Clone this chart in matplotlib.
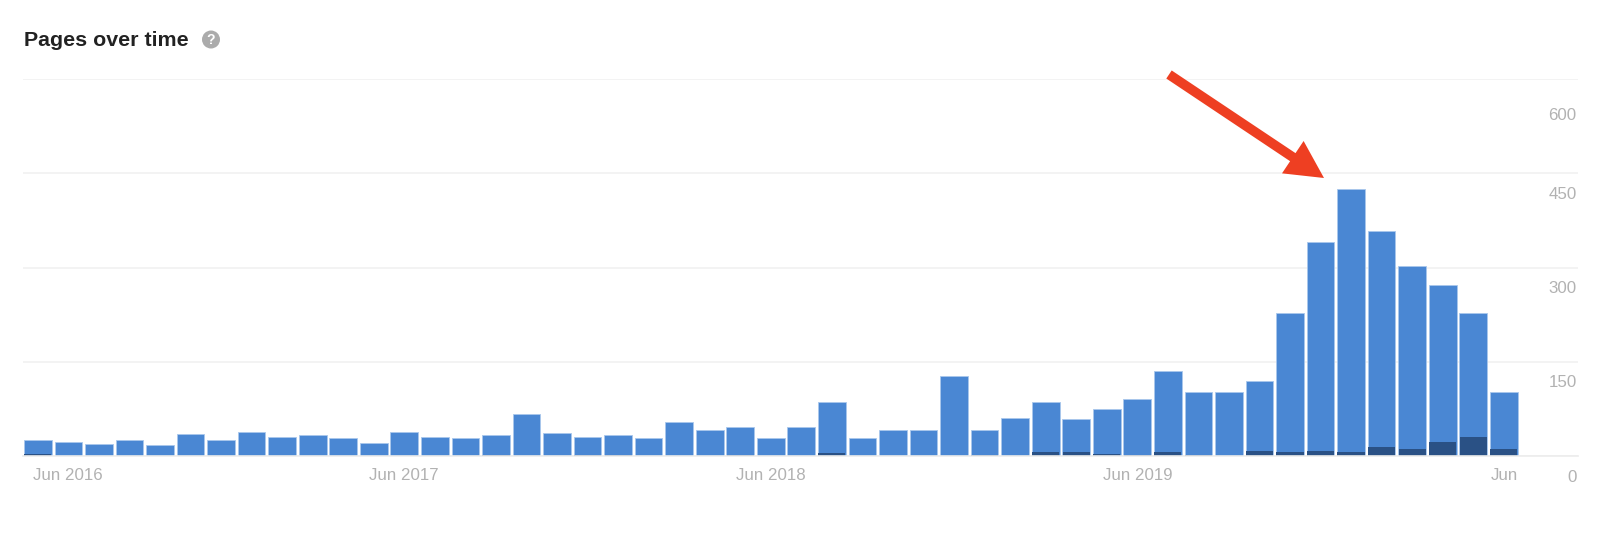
import matplotlib
matplotlib.use("Agg")
import numpy as np
import matplotlib.pyplot as plt
from matplotlib.patches import Circle
from matplotlib.transforms import IdentityTransform, offset_copy

plt.rcParams['font.family'] = ['Liberation Sans', 'DejaVu Sans']

# monthly page counts (Jun 2016 .. Jun 2020)
total_pages = [25, 23, 20, 26, 18, 36, 26, 38, 31, 34, 29, 21,
               39, 31, 29, 34, 67, 37, 31, 33, 29, 55, 41, 46,
               29, 47, 86, 29, 41, 42, 128, 41, 60, 86, 59, 75,
               91, 135, 102, 102, 120, 228, 341, 425, 359, 302, 272, 228, 102]
dark_pages = [3, 1, 1, 1, 1, 1, 1, 1, 1, 1, 1, 1,
              1, 1, 1, 2, 1, 1, 2, 2, 1, 1, 1, 2,
              1, 1, 5, 0, 0, 0, 0, 2, 1, 6, 6, 4,
              2, 6, 2, 0, 8, 6, 9, 6, 15, 12, 22, 31, 12]
y_ticks = [0, 150, 300, 450, 600]
x_label_months = [0, 12, 24, 36, 48]
x_labels = ['Jun 2016', 'Jun 2017', 'Jun 2018', 'Jun 2019', 'Jun']

W, H = 1600, 544
fig = plt.figure(figsize=(W / 100, H / 100), dpi=100)
ax = fig.add_axes([23 / W, (H - 456.2) / H, (1578 - 23) / W, (456.2 - 79) / H])

months = np.arange(len(total_pages))

# grid first so the bars sit on top
ax.grid(axis='y', color='#f1f1f1', linewidth=1.2)
ax.set_axisbelow(True)
ax.bar(months, total_pages, width=0.907, color='#4a87d3', edgecolor='#a9c7ec', linewidth=0.6)
ax.bar(months, dark_pages, width=0.89, color='#2a5185', linewidth=0)

ax.set_xlim(-0.485, 50.43)
ax.set_ylim(0, 600)
ax.set_yticks(y_ticks)
ax.set_xticks([])
ax.tick_params(axis='y', length=0, labelleft=False)
for side in ['top', 'right', 'left']:
    ax.spines[side].set_visible(False)
ax.spines['bottom'].set_color('#ececec')
ax.spines['bottom'].set_linewidth(1.2)

# y labels hang under their gridlines, 600 sits lower than the rest
for val in y_ticks:
    drop = 37 if val == 600 else 21
    trans = offset_copy(ax.get_yaxis_transform(), fig=fig, x=-1, y=-drop * 0.72, units='points')
    ax.text(1, val, str(val), transform=trans, ha='right', va='center',
            fontsize=12.2, color='#b2b2b2')

# x labels, first and last are pushed inside the bar range
for m, lab in zip(x_label_months, x_labels):
    ha, dx = 'center', 0
    if m == 0:
        ha, dx = 'left', -5 * 0.72
    if m == 48:
        ha, dx = 'right', 14 * 0.72
    trans = offset_copy(ax.get_xaxis_transform(), fig=fig, x=dx, y=-19 * 0.72, units='points')
    ax.text(m, 0, lab, transform=trans, ha=ha, va='center', fontsize=12.2, color='#b2b2b2')

# title and help icon
fig.text(24 / W, (H - 46) / H, 'Pages over time', fontsize=15.4, fontweight='bold',
         color='#222222', ha='left', va='baseline')
fig.add_artist(Circle((211, H - 39.5), 9, transform=IdentityTransform(), color='#ababab', linewidth=0))
fig.text(211 / W, (H - 39.5) / H, '?', fontsize=10, fontweight='bold', color='white',
         ha='center', va='center')

# red arrow pointing at the peak
ax.annotate('', xy=(1324, H - 178), xytext=(1169, H - 74.5),
            xycoords='figure pixels', textcoords='figure pixels',
            arrowprops=dict(facecolor='#ee3f22', edgecolor='none', width=7,
                            headwidth=28, headlength=27, shrink=0))

fig.savefig('out.png', dpi=100, facecolor='white')
